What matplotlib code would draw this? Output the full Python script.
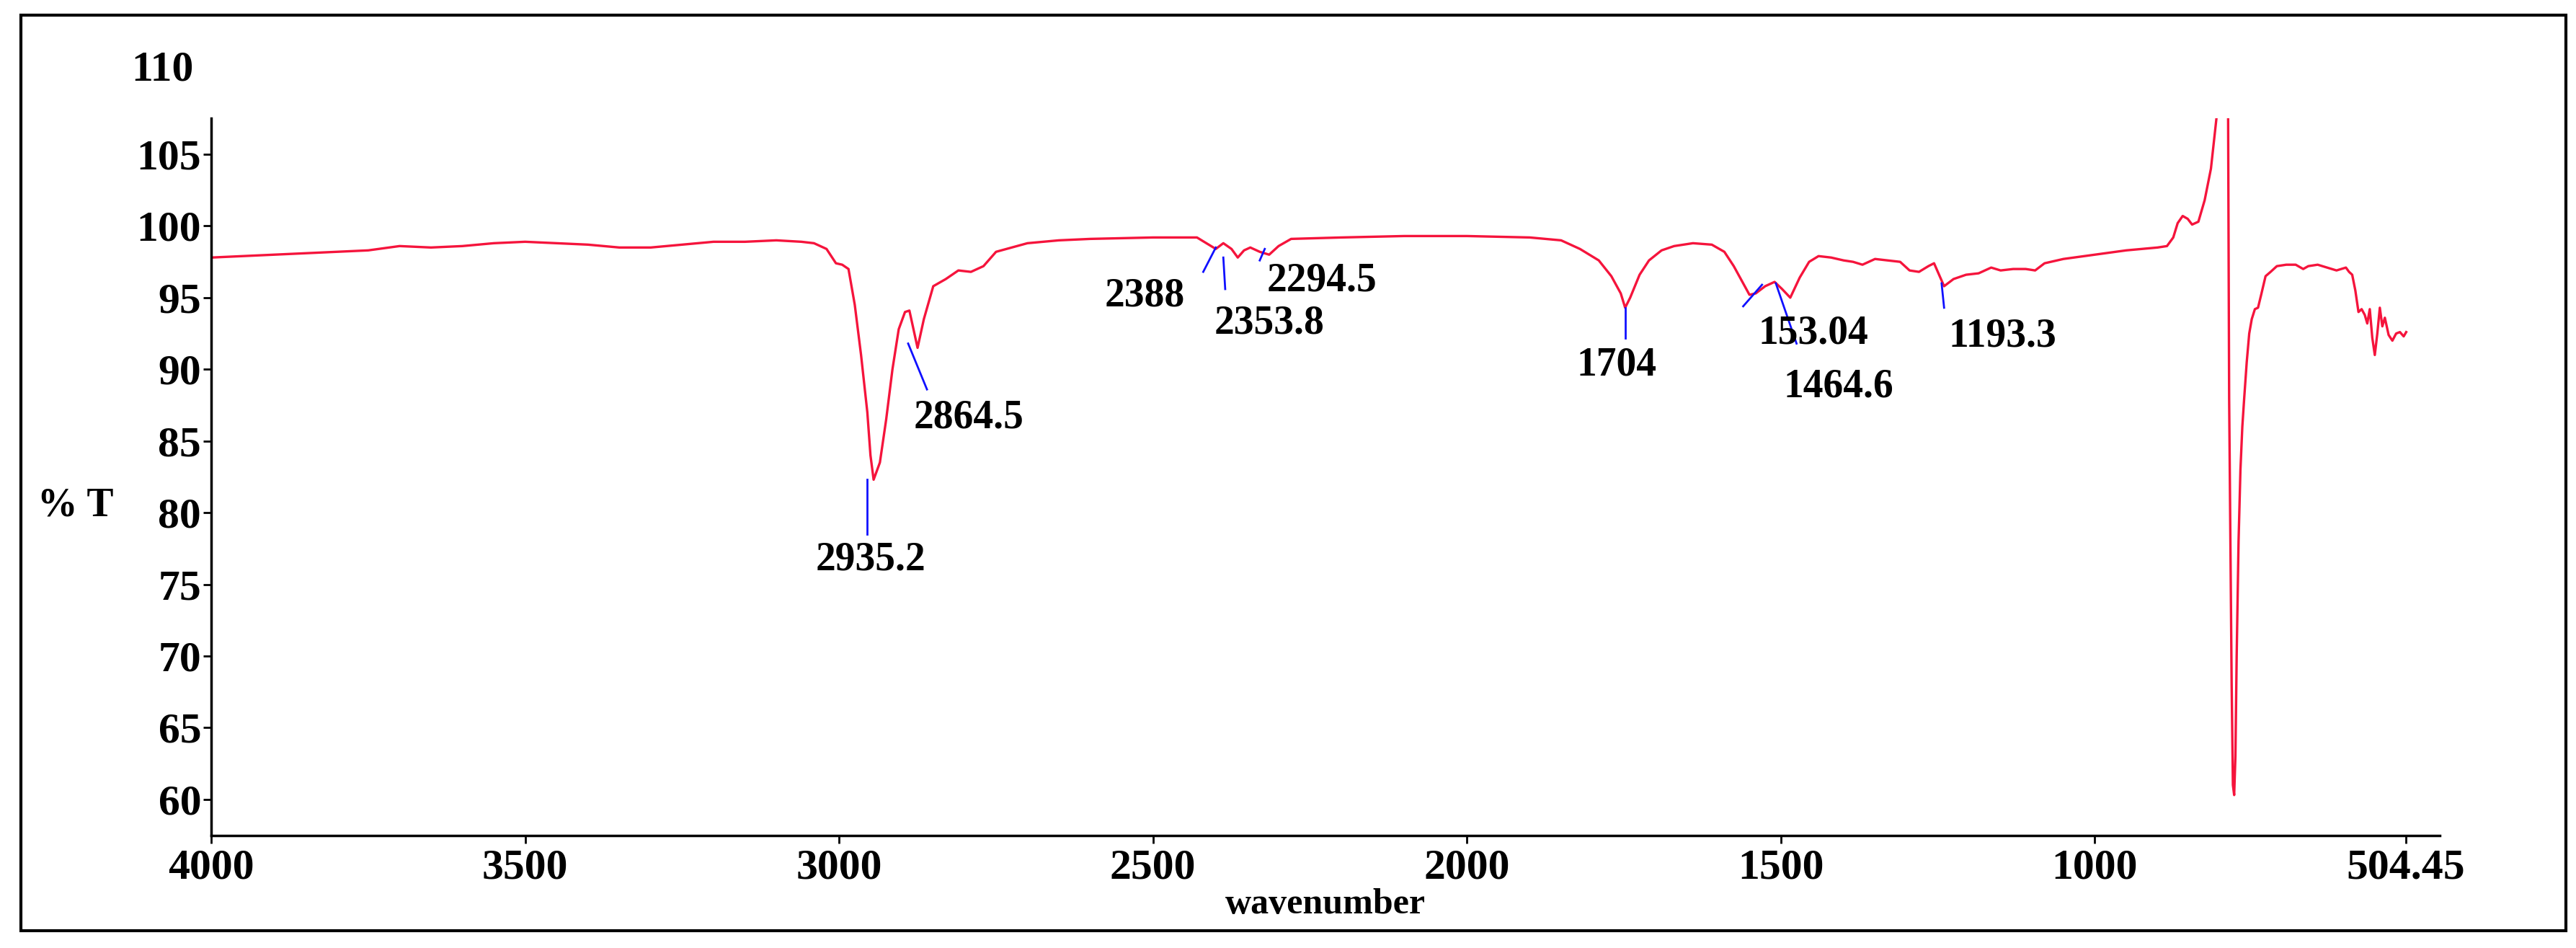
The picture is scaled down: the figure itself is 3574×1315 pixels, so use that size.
import matplotlib
matplotlib.use("Agg")
import matplotlib.pyplot as plt
from matplotlib.patches import Rectangle

# rows of 10 for alignment
wn = [4000, 3900, 3800, 3750, 3700, 3650, 3600, 3550, 3500, 3450,
      3400, 3350, 3300, 3250, 3200, 3150, 3100, 3060, 3040, 3020,
      3005, 2995, 2985, 2975, 2965, 2955, 2950, 2945, 2935, 2925,
      2915, 2905, 2895, 2888, 2884, 2875, 2865, 2850, 2830, 2810,
      2790, 2770, 2750, 2700, 2650, 2600, 2500, 2430, 2415, 2400,
      2388, 2375, 2365, 2355, 2345, 2330, 2315, 2300, 2280, 2200,
      2100, 2000, 1900, 1850, 1820, 1790, 1770, 1755, 1748, 1740,
      1725, 1710, 1690, 1670, 1640, 1610, 1590, 1575, 1560, 1550,
      1540, 1525, 1510, 1498, 1485, 1470, 1455, 1440, 1420, 1400,
      1385, 1370, 1350, 1330, 1310, 1295, 1280, 1265, 1256, 1248,
      1240, 1225, 1205, 1185, 1165, 1150, 1130, 1110, 1095, 1080,
      1050, 1000, 950, 900, 885, 875, 868, 860, 852, 845,
      835, 825, 815, 805, 795, 788, 786, 784, 782, 780,
      778, 776, 774, 771, 768, 765, 762, 758, 754, 750,
      745, 740, 735, 728, 720, 710, 695, 680, 668, 660,
      645, 630, 615, 600, 595, 590, 585, 580, 575, 570,
      566, 562, 558, 554, 550, 546, 542, 538, 532, 526,
      520, 514, 508, 504]
T = [97.8, 98.0, 98.2, 98.3, 98.6, 98.5, 98.6, 98.8, 98.9, 98.8,
     98.7, 98.5, 98.5, 98.7, 98.9, 98.9, 99.0, 98.9, 98.8, 98.4,
     97.4, 97.3, 97.0, 94.5, 91.0, 87.0, 84.0, 82.3, 83.5, 86.5,
     90.0, 92.8, 94.0, 94.1, 93.3, 91.5, 93.5, 95.8, 96.3, 96.9,
     96.8, 97.2, 98.2, 98.8, 99.0, 99.1, 99.2, 99.2, 98.8, 98.4,
     98.8, 98.4, 97.8, 98.3, 98.5, 98.2, 98.0, 98.6, 99.1, 99.2,
     99.3, 99.3, 99.2, 99.0, 98.4, 97.6, 96.5, 95.3, 94.3, 95.0,
     96.6, 97.6, 98.3, 98.6, 98.8, 98.7, 98.2, 97.2, 96.0, 95.2,
     95.3, 95.8, 96.1, 95.6, 95.0, 96.4, 97.5, 97.9, 97.8, 97.6,
     97.5, 97.3, 97.7, 97.6, 97.5, 96.9, 96.8, 97.2, 97.4, 96.6,
     95.8, 96.3, 96.6, 96.7, 97.1, 96.9, 97.0, 97.0, 96.9, 97.4,
     97.7, 98.0, 98.3, 98.5, 98.6, 99.2, 100.2, 100.7, 100.5, 100.1,
     100.3, 101.8, 104.0, 108.0, 112.0, 112.0, 88.0, 78.0, 68.0, 61.0,
     60.3, 63.0, 70.0, 78.0, 83.0, 86.0, 88.0, 90.5, 92.5, 93.5,
     94.2, 94.3, 95.2, 96.5, 96.8, 97.2, 97.3, 97.3, 97.0, 97.2,
     97.3, 97.1, 96.9, 97.1, 96.8, 96.6, 95.5, 94.0, 94.2, 93.8,
     93.2, 94.2, 92.2, 91.0, 92.5, 94.3, 93.0, 93.6, 92.4, 92.0,
     92.5, 92.6, 92.3, 92.6]

peak_labels = ["2935.2", "2864.5", "2388", "2353.8", "2294.5", "1704", "153.04", "1464.6", "1193.3"]
label_x = [2950, 2793, 2513, 2315, 2231, 1761, 1448, 1408, 1147]
label_y = [76.7, 86.6, 95.1, 93.2, 96.2, 90.3, 92.5, 88.8, 92.3]
lead_x0 = [2955, 2890, 2420, 2388, 2330, 1748, 1560, 1508, 1244]
lead_y0 = [82.3, 91.8, 96.8, 97.8, 97.6, 94.3, 94.4, 96.0, 96.0]
lead_x1 = [2955, 2860, 2400, 2385, 2322, 1748, 1530, 1475, 1240]
lead_y1 = [78.5, 88.6, 98.5, 95.6, 98.4, 92.2, 95.9, 91.8, 94.3]

xticks = [4000, 3500, 3000, 2500, 2000, 1500, 1000, 504.45]
xticklabels = ["4000", "3500", "3000", "2500", "2000", "1500", "1000", "504.45"]
yticks = [60, 65, 70, 75, 80, 85, 90, 95, 100, 105]

plt.rcParams['font.family'] = ['Liberation Serif', 'DejaVu Serif']
plt.rcParams['font.weight'] = 'bold'

fig = plt.figure(figsize=(35.74, 13.15), dpi=100)
fig.patches.append(Rectangle((0.008, 0.018), 0.988, 0.966, transform=fig.transFigure,
                             fill=False, edgecolor='black', linewidth=3))
ax = fig.add_axes([0.082, 0.119, 0.865, 0.756])
ax.plot(wn, T, color='#f5143c', linewidth=2.4)
ax.set_xlim(4000, 451)
ax.set_ylim(57.5, 107.5)
for sp in ['top', 'right']:
    ax.spines[sp].set_visible(False)
for sp in ['left', 'bottom']:
    ax.spines[sp].set_linewidth(2.5)
ax.set_xticks(xticks)
ax.set_xticklabels(xticklabels)
ax.set_yticks(yticks)
ax.tick_params(axis='both', labelsize=43, width=2, length=8, direction='out')
ax.tick_params(axis='x', pad=6)
ax.tick_params(axis='y', pad=2)
ax.text(-0.008, 1.067, "110", transform=ax.transAxes, ha='right', va='center',
        fontsize=43, fontweight='bold')
ax.set_xlabel("wavenumber", fontsize=36, fontweight='bold', labelpad=0)
ax.text(-0.078, 0.46, "% T", transform=ax.transAxes, ha='left', va='center',
        fontsize=40, fontweight='bold')

for lab, tx, ty, x0, y0, x1, y1 in zip(peak_labels, label_x, label_y, lead_x0, lead_y0, lead_x1, lead_y1):
    ax.plot([x0, x1], [y0, y1], color='#1010ff', linewidth=2)
    ax.text(tx, ty, lab, ha='center', va='center', fontsize=40, fontweight='bold')

fig.savefig("out.png", dpi=100)
